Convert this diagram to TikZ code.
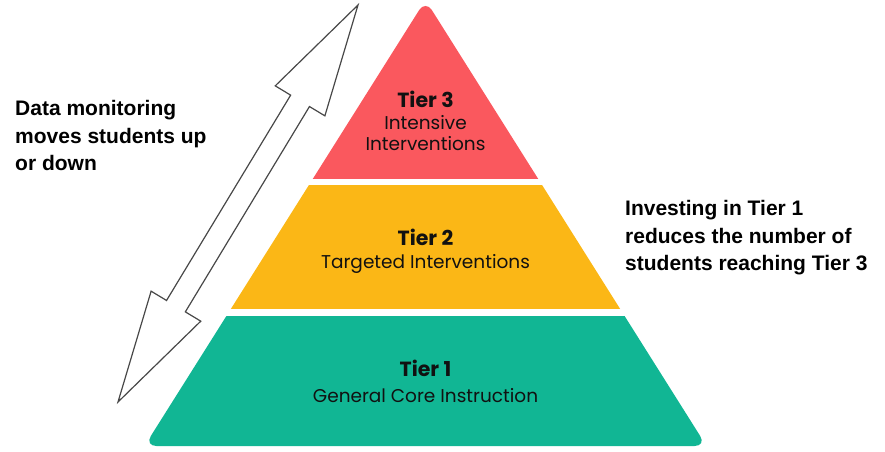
\documentclass[tikz,border=0pt]{standalone}
\usepackage{fontspec}
\usetikzlibrary{calc}
\newfontfamily\tierfont{Poppins}
\newfontfamily\notefont{Liberation Sans}
\definecolor{tierred}{RGB}{250,88,94}
\definecolor{tieryellow}{RGB}{251,183,22}
\definecolor{tiergreen}{RGB}{17,182,148}
\definecolor{inktext}{RGB}{17,17,17}
\definecolor{arrowline}{RGB}{72,72,72}
\tikzset{
  tiertitle/.style={inner sep=0pt, anchor=base, text=inktext,
    font=\tierfont\bfseries\fontsize{20.5}{24}\selectfont},
  tiersub/.style={inner sep=0pt, anchor=base, text=inktext,
    font=\tierfont\fontsize{18.5}{22}\selectfont},
  note/.style={inner sep=0pt, anchor=base west, text=black,
    font=\notefont\bfseries\fontsize{21}{25}\selectfont},
  updown/.style={draw=arrowline, line width=1.2pt, fill=white, line join=miter},
}
\begin{document}
\begin{tikzpicture}[x=1pt,y=-1pt]
\useasboundingbox (0,0) rectangle (885,451);

% the pyramid outline, cut into three bands
\def\pyramid{(425.5,446) -- (144.5,446) -- (425.5,0) -- (706.5,446) -- cycle}
\begin{scope}
  \clip (0,-10) rectangle (885,178);
  \fill[tierred, rounded corners=12pt] \pyramid;
\end{scope}
\begin{scope}
  \clip (0,185.5) rectangle (885,308);
  \fill[tieryellow, rounded corners=12pt] \pyramid;
\end{scope}
\begin{scope}
  \clip (0,316) rectangle (885,460);
  \fill[tiergreen, rounded corners=12pt] \pyramid;
\end{scope}

% tier labels
\node[tiertitle] (t3) at (425.5,107) {Tier 3};
\node[tiersub] (t3a) at (425.5,129) {Intensive};
\node[tiersub] (t3b) at (425.5,150) {Interventions};
\node[tiertitle] (t2) at (425.5,245) {Tier 2};
\node[tiersub] (t2a) at (425.5,268) {Targeted Interventions};
\node[tiertitle] (t1) at (425.5,376) {Tier 1};
\node[tiersub] (t1a) at (425.5,402) {General Core Instruction};

% hollow double-headed arrow
\coordinate (aB) at (118,402);
\coordinate (aT) at (358,5);
\coordinate (hB) at ($(aB)!112pt!(aT)$);
\coordinate (hT) at ($(aT)!112pt!(aB)$);
\draw[updown] (aT)
  -- ($(hT)!29pt!90:(aT)$) -- ($(hT)!11pt!90:(aT)$)
  -- ($(hB)!11pt!-90:(aB)$) -- ($(hB)!29pt!-90:(aB)$)
  -- (aB)
  -- ($(hB)!29pt!90:(aB)$) -- ($(hB)!11pt!90:(aB)$)
  -- ($(hT)!11pt!-90:(aT)$) -- ($(hT)!29pt!-90:(aT)$)
  -- cycle;

% side notes
\node[note] (l1) at (15,115) {Data monitoring};
\node[note] (l2) at (15,143) {moves students up};
\node[note] (l3) at (15,170) {or down};
\node[note] (r1) at (625,215) {Investing in Tier 1};
\node[note] (r2) at (625,243) {reduces the number of};
\node[note] (r3) at (625,270) {students reaching Tier 3};
\end{tikzpicture}
\end{document}
